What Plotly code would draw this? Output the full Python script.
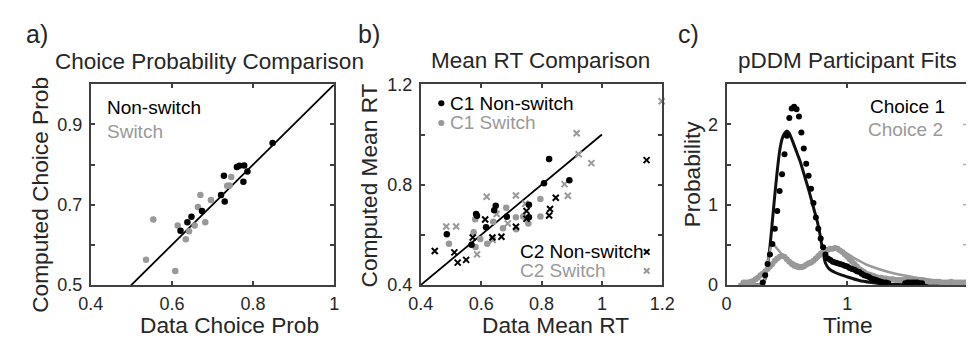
import plotly.graph_objects as go

W, H = 979, 342

# ---------------- Panel a data: choice probability ----------------
a_nonswitch_x = [0.848, 0.760, 0.766, 0.778, 0.786, 0.776, 0.728, 0.721, 0.730, 0.674, 0.648, 0.638, 0.621]
a_nonswitch_y = [0.854, 0.794, 0.797, 0.798, 0.783, 0.757, 0.772, 0.724, 0.708, 0.684, 0.670, 0.656, 0.635]
a_switch_x = [0.746, 0.736, 0.742, 0.696, 0.670, 0.664, 0.682, 0.656, 0.614, 0.642, 0.634, 0.554, 0.536, 0.608]
a_switch_y = [0.769, 0.747, 0.748, 0.712, 0.724, 0.694, 0.656, 0.648, 0.648, 0.634, 0.614, 0.663, 0.563, 0.535]
a_identity = [0.4, 1.0]

# ---------------- Panel b data: mean RT ----------------
b_c1_ns_x = [0.825, 0.808, 0.892, 0.648, 0.643, 0.758, 0.758, 0.685, 0.583, 0.586, 0.616, 0.486, 0.568]
b_c1_ns_y = [0.902, 0.806, 0.818, 0.716, 0.698, 0.720, 0.670, 0.672, 0.683, 0.676, 0.630, 0.602, 0.560]
b_c1_sw_x = [0.796, 0.796, 0.683, 0.715, 0.739, 0.756, 0.672, 0.716, 0.580, 0.575, 0.597, 0.620, 0.581, 0.493, 0.640]
b_c1_sw_y = [0.743, 0.673, 0.708, 0.670, 0.673, 0.645, 0.626, 0.622, 0.662, 0.610, 0.583, 0.564, 0.551, 0.564, 0.652]
b_c2_ns_x = [1.148, 0.847, 0.828, 0.825, 0.750, 0.750, 0.715, 0.613, 0.637, 0.667, 0.446, 0.511, 0.522, 0.550, 0.572]
b_c2_ns_y = [0.898, 0.748, 0.703, 0.677, 0.695, 0.664, 0.632, 0.661, 0.589, 0.592, 0.535, 0.530, 0.489, 0.500, 0.589]
b_c2_sw_x = [1.198, 0.916, 0.923, 0.965, 0.876, 0.887, 0.715, 0.618, 0.746, 0.484, 0.517, 0.688, 0.586, 0.651, 0.638]
b_c2_sw_y = [1.133, 1.005, 0.921, 0.886, 0.802, 0.756, 0.757, 0.752, 0.724, 0.633, 0.633, 0.645, 0.522, 0.683, 0.579]
b_identity = [0.4, 1.0]

# ---------------- Panel c data: RT distributions ----------------
c_model1_t = [0.10, 0.28, 0.30, 0.32, 0.34, 0.36, 0.38, 0.40, 0.42, 0.44, 0.46, 0.48, 0.50, 0.52, 0.55,
              0.58, 0.61, 0.64, 0.67, 0.70, 0.73, 0.755, 0.78, 0.80, 0.82, 0.85, 0.90, 0.95, 1.00,
              1.10, 1.20, 1.30, 1.40, 2.00]
c_model1_p = [0.0, 0.0, 0.01, 0.08, 0.25, 0.48, 0.80, 1.12, 1.42, 1.67, 1.82, 1.89, 1.92, 1.89, 1.78,
              1.66, 1.54, 1.39, 1.24, 1.08, 0.91, 0.77, 0.58, 0.40, 0.27, 0.20, 0.155, 0.125, 0.10,
              0.055, 0.03, 0.012, 0.004, 0.0]
c_model2_t = [0.10, 0.28, 0.31, 0.33, 0.35, 0.37, 0.39, 0.42, 0.46, 0.50, 0.55, 0.60, 0.65, 0.70, 0.75,
              0.80, 0.85, 0.90, 0.95, 1.00, 1.05, 1.10, 1.15, 1.20, 1.30, 1.40, 1.50, 1.60, 1.70,
              1.80, 1.90, 2.00]
c_model2_p = [0.0, 0.0, 0.03, 0.15, 0.35, 0.48, 0.50, 0.45, 0.38, 0.33, 0.28, 0.25, 0.24, 0.26, 0.32,
              0.38, 0.43, 0.45, 0.43, 0.39, 0.34, 0.30, 0.26, 0.23, 0.18, 0.14, 0.11, 0.085, 0.06,
              0.045, 0.03, 0.02]
c_data1_t = [0.30, 0.32, 0.34, 0.36, 0.38, 0.40, 0.42, 0.44, 0.46, 0.48, 0.50, 0.52, 0.54, 0.56, 0.58,
             0.60, 0.62, 0.64, 0.66, 0.68, 0.70, 0.72, 0.74, 0.76, 0.78, 0.80, 0.82, 0.84, 0.86,
             0.88, 0.90, 0.92, 0.94, 0.96, 0.98, 1.00, 1.02, 1.04, 1.06, 1.08, 1.10, 1.12, 1.14,
             1.16, 1.18, 1.20, 1.22, 1.24, 1.26, 1.28, 1.30, 1.32, 1.34,
             1.48, 1.50, 1.52, 1.54, 1.56, 1.58, 1.60, 1.62]
c_data1_p = [0.03, 0.12, 0.26, 0.38, 0.51, 0.70, 0.92, 1.17, 1.38, 1.63, 1.86, 2.08, 2.20, 2.22, 2.19,
             2.10, 1.90, 1.70, 1.51, 1.36, 1.20, 1.02, 0.84, 0.70, 0.58, 0.47, 0.38, 0.33, 0.31,
             0.29, 0.28, 0.27, 0.26, 0.25, 0.24, 0.23, 0.21, 0.20, 0.19, 0.17, 0.16, 0.14, 0.12,
             0.11, 0.10, 0.08, 0.07, 0.06, 0.05, 0.04, 0.03, 0.03, 0.02,
             0.02, 0.03, 0.03, 0.03, 0.03, 0.03, 0.02, 0.02]
c_data2_t = [round(0.14 + 0.02 * i, 2) for i in range(94)]
c_data2_p = [0.03, 0.03, 0.03, 0.04, 0.05, 0.07, 0.09, 0.12, 0.14, 0.17, 0.20, 0.23, 0.26, 0.30, 0.33,
             0.35, 0.36, 0.35, 0.32, 0.29, 0.26, 0.24, 0.23, 0.22, 0.22, 0.23, 0.25, 0.27, 0.28,
             0.30, 0.33, 0.36, 0.39, 0.41, 0.43, 0.44, 0.45, 0.45, 0.46, 0.45, 0.43, 0.41, 0.38,
             0.35, 0.32, 0.29, 0.26, 0.23, 0.20, 0.18, 0.16, 0.14, 0.13, 0.12, 0.11, 0.10, 0.09,
             0.09, 0.08, 0.08, 0.07, 0.07, 0.07, 0.06, 0.06, 0.06, 0.06, 0.06, 0.06, 0.06, 0.06,
             0.06, 0.06, 0.06, 0.06, 0.05, 0.05, 0.04, 0.04, 0.04, 0.04, 0.04, 0.03, 0.03, 0.03,
             0.03, 0.04, 0.03, 0.03, 0.03, 0.03, 0.03, 0.03, 0.03]

# tick labels
a_xtick_vals = [0.4, 0.6, 0.8, 1.0]
a_xtick_text = ["0.4", "0.6", "0.8", "1"]
a_ytick_vals = [0.5, 0.6, 0.7, 0.8, 0.9, 1.0]
a_ytick_text = ["0.5", "", "0.7", "", "0.9", ""]
b_xtick_vals = [0.4, 0.6, 0.8, 1.0, 1.2]
b_xtick_text = ["0.4", "0.6", "0.8", "1", "1.2"]
b_ytick_vals = [0.4, 0.6, 0.8, 1.0, 1.2]
b_ytick_text = ["0.4", "", "0.8", "", "1.2"]
c_xtick_vals = [0, 1]
c_xtick_text = ["0", "1"]
c_xtick_cut_val = 2      # last x tick of panel c lies on the window's right edge
c_xtick_cut_text = "2"
c_ytick_vals = [0, 0.5, 1, 1.5, 2, 2.5]
c_ytick_text = ["0", "", "1", "", "2", ""]

BLACK = "#000000"
GRAY = "#999999"
AXC = "#404040"
TXT = "#262626"
FONT = "Liberation Sans, Arial, Helvetica, sans-serif"

C_YMAX = 2.5
C_XMAX = 2 * (979 - 733) / (981 - 733)   # axis runs to 2, the window cuts it just before


def px(x):
    return x / W


def py(y):
    return 1 - y / H


fig = go.Figure()

# Panel a
fig.add_trace(go.Scatter(x=a_identity, y=a_identity, mode="lines", line=dict(color=BLACK, width=1.8),
                         xaxis="x", yaxis="y", showlegend=False))
fig.add_trace(go.Scatter(x=a_switch_x, y=a_switch_y, mode="markers",
                         marker=dict(color=GRAY, size=6.5), xaxis="x", yaxis="y", showlegend=False))
fig.add_trace(go.Scatter(x=a_nonswitch_x, y=a_nonswitch_y, mode="markers",
                         marker=dict(color=BLACK, size=6.5), xaxis="x", yaxis="y", showlegend=False))

# Panel b
fig.add_trace(go.Scatter(x=b_identity, y=b_identity, mode="lines", line=dict(color=BLACK, width=1.8),
                         xaxis="x2", yaxis="y2", showlegend=False))
fig.add_trace(go.Scatter(x=b_c1_sw_x, y=b_c1_sw_y, mode="markers",
                         marker=dict(color=GRAY, size=6.5), xaxis="x2", yaxis="y2", showlegend=False))
fig.add_trace(go.Scatter(x=b_c2_sw_x, y=b_c2_sw_y, mode="markers", cliponaxis=False,
                         marker=dict(color=GRAY, size=6, symbol="x-thin", line=dict(color=GRAY, width=2)),
                         xaxis="x2", yaxis="y2", showlegend=False))
fig.add_trace(go.Scatter(x=b_c1_ns_x, y=b_c1_ns_y, mode="markers",
                         marker=dict(color=BLACK, size=6.5), xaxis="x2", yaxis="y2", showlegend=False))
fig.add_trace(go.Scatter(x=b_c2_ns_x, y=b_c2_ns_y, mode="markers",
                         marker=dict(color=BLACK, size=6, symbol="x-thin", line=dict(color=BLACK, width=2)),
                         xaxis="x2", yaxis="y2", showlegend=False))

# Panel c
fig.add_trace(go.Scatter(x=c_model1_t, y=c_model1_p, mode="lines",
                         line=dict(color="#111111", width=3, shape="spline", smoothing=0.6),
                         xaxis="x3", yaxis="y3", showlegend=False))
fig.add_trace(go.Scatter(x=c_model2_t, y=c_model2_p, mode="lines",
                         line=dict(color=GRAY, width=2.5, shape="spline", smoothing=0.6),
                         xaxis="x3", yaxis="y3", showlegend=False))
fig.add_trace(go.Scatter(x=c_data2_t, y=c_data2_p, mode="markers",
                         marker=dict(color=GRAY, size=6), xaxis="x3", yaxis="y3", showlegend=False))
fig.add_trace(go.Scatter(x=c_data1_t, y=c_data1_p, mode="markers",
                         marker=dict(color=BLACK, size=6), xaxis="x3", yaxis="y3", showlegend=False))
# the cut-off "2" tick label, placed at its tick through the axis, below the plot
fig.add_trace(go.Scatter(x=[c_xtick_cut_val], y=[-16 / 213 * C_YMAX], mode="text", text=[c_xtick_cut_text],
                         textposition="middle center", cliponaxis=False,
                         textfont=dict(size=18, color=TXT, family=FONT),
                         xaxis="x3", yaxis="y3", showlegend=False, hoverinfo="skip"))

axis_common = dict(showline=True, linecolor=AXC, linewidth=2, ticks="inside", ticklen=4,
                   tickwidth=1.5, tickcolor=AXC, showgrid=False, zeroline=False,
                   tickfont=dict(size=18, color=TXT, family=FONT), tickmode="array")
xcommon = dict(axis_common, ticklabelstandoff=1)
ycommon = dict(axis_common, ticklabelstandoff=3)

ydom = [py(292), py(79)]
fig.update_layout(
    width=W, height=H, margin=dict(l=0, r=0, t=0, b=0),
    paper_bgcolor="white", plot_bgcolor="white",
    font=dict(family=FONT, color=TXT),
    xaxis=dict(xcommon, domain=[px(80), px(330)], range=[0.4, 1.0], mirror="ticks",
               tickvals=a_xtick_vals, ticktext=a_xtick_text, anchor="y"),
    yaxis=dict(ycommon, domain=ydom, range=[0.5, 1.0], mirror="ticks",
               tickvals=a_ytick_vals, ticktext=a_ytick_text, anchor="x"),
    xaxis2=dict(xcommon, domain=[px(419), px(667)], range=[0.4, 1.2], mirror="ticks",
                tickvals=b_xtick_vals, ticktext=b_xtick_text, anchor="y2"),
    yaxis2=dict(ycommon, domain=ydom, range=[0.4, 1.2], mirror="ticks",
                tickvals=b_ytick_vals, ticktext=b_ytick_text, anchor="x2"),
    xaxis3=dict(xcommon, domain=[px(733), 1.0], range=[0, C_XMAX], mirror="ticks",
                tickvals=c_xtick_vals, ticktext=c_xtick_text, anchor="y3"),
    yaxis3=dict(ycommon, domain=ydom, range=[0, C_YMAX], mirror=False,
                tickvals=c_ytick_vals, ticktext=c_ytick_text, anchor="x3"),
)

ann = []


def text(s, x, y, size, color=TXT, xanchor="center", angle=0):
    ann.append(dict(text=s, x=px(x), y=py(y), xref="paper", yref="paper", showarrow=False,
                    xanchor=xanchor, yanchor="middle", textangle=angle,
                    font=dict(size=size, color=color, family=FONT)))


# panel labels
text("a)", 11, 25, 25, xanchor="left")
text("b)", 352, 25, 25, xanchor="left")
text("c)", 681, 25, 25, xanchor="left")
# titles
text("Choice Probability Comparison", 202, 55, 22.5)
text("Mean RT Comparison", 542, 54, 22.5)
text("pDDM Participant Fits", 857, 54, 22.5)
# axis titles
text("Data Choice Prob", 222, 334.5, 22.7)
text("Data Mean RT", 557, 334.5, 22.7)
text("Time", 858, 334.5, 22.7)
text("Computed Choice Prob", 27, 196, 22.7, angle=-90)
text("Computed Mean RT", 366, 186, 22.7, angle=-90)
text("Probability", 697, 174, 22.7, angle=-90)
# legends
text("Non-switch", 94, 104, 19, color=BLACK, xanchor="left")
text("Switch", 94, 129, 19, color=GRAY, xanchor="left")
text("C1 Non-switch", 447, 99, 19, color=BLACK, xanchor="left")
text("C1 Switch", 447, 120, 19, color=GRAY, xanchor="left")
text("C2 Non-switch", 519, 257, 19, color=BLACK, xanchor="left")
text("C2 Switch", 519, 277, 19, color=GRAY, xanchor="left")
text("Choice 1", 878, 102, 19, color=BLACK, xanchor="left")
text("Choice 2", 876, 127, 19, color=GRAY, xanchor="left")

shapes = []


def dot(x, y, color, r=3.2):
    shapes.append(dict(type="circle", xref="paper", yref="paper", x0=px(x - r), x1=px(x + r),
                       y0=py(y + r), y1=py(y - r), fillcolor=color, line=dict(width=0)))


def cross(x, y, color, r=2.8):
    for s in (1, -1):
        shapes.append(dict(type="line", xref="paper", yref="paper", x0=px(x - r), x1=px(x + r),
                           y0=py(y - s * r), y1=py(y + s * r), line=dict(color=color, width=2)))


dot(440, 99, BLACK)
dot(440, 120, GRAY)
cross(651, 257, BLACK)
cross(651, 277, GRAY)
# mirrored right-side tick stubs of panel c (its border lies just outside the window)
for yv in [0.5, 1.0, 1.5, 2.0]:
    shapes.append(dict(type="line", xref="paper", yref="y3", x0=px(976), x1=1.0, y0=yv, y1=yv,
                       line=dict(color="#b0b0b0", width=1.5)))

fig.update_layout(annotations=ann, shapes=shapes)
fig.write_html("out.html")
